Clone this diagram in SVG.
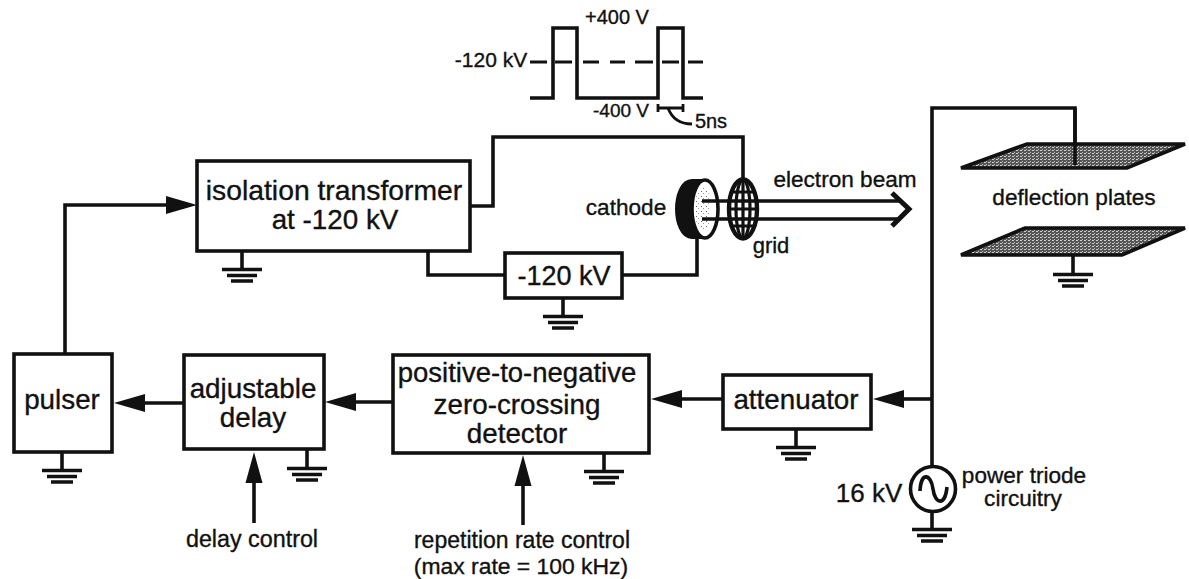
<svg xmlns="http://www.w3.org/2000/svg" width="1189" height="579" viewBox="0 0 1189 579">
<style>
text{font-family:"Liberation Sans",Arial,sans-serif;fill:#111;stroke:#111;stroke-width:.35;text-anchor:middle}
.b{font-size:27.8px}.s{font-size:22.6px}.v{font-size:20px}
.box{fill:#fff;stroke:#111;stroke-width:3.6}
.w{fill:none;stroke:#111;stroke-width:3.6}
.t{fill:none;stroke:#111;stroke-width:2.8}
.a{fill:#111;stroke:none}
.plate{fill:url(#dither);stroke:#111;stroke-width:3.6;stroke-linejoin:miter}
</style>
<defs>
<pattern id="dither" width="4" height="3" patternUnits="userSpaceOnUse"><rect width="4" height="3" fill="#555"/><rect width="2" height="1" fill="#ccc"/><rect x="2" y="2" width="1" height="1" fill="#bbb"/></pattern>
<pattern id="speck" width="5" height="5" patternUnits="userSpaceOnUse"><rect width="5" height="5" fill="#fff"/><rect x="1" y="1" width="1" height="1" fill="#666"/><rect x="3" y="3" width="1" height="1" fill="#999"/></pattern>
<g id="gnd"><path class="w" d="M0 0V18"/><path class="w" d="M-20 18.500H20M-15 24.500H15M-11 30H11" style="stroke-width:3.300"/></g>
<path id="ah" class="a" d="M0 0L31 -9V9Z"/>
<path id="av" class="a" d="M0 0L-8.500 31H8.500Z"/>
</defs>

<g id="connectors">
<path class="w" d="M65 354V205H168"/><use href="#ah" transform="translate(197,205) rotate(180)"/>
<path class="w" d="M143 403H184"/><use href="#ah" transform="translate(114,403)"/>
<path class="w" d="M354 402H393"/><use href="#ah" transform="translate(325,402)"/>
<path class="w" d="M680 399H722"/><use href="#ah" transform="translate(651,399)"/>
<path class="w" d="M901 399H932"/><use href="#ah" transform="translate(873,399)"/>
<path class="w" d="M254 523V480"/><use href="#av" transform="translate(254,452)"/>
<path class="w" d="M523 525V482"/><use href="#av" transform="translate(523,455)"/>
<path class="w" d="M932 467V108H1075V157"/>
<path class="w" d="M470 206H493V137H743V180"/>
<path class="w" d="M428 251V275H505"/>
<path class="w" d="M622 275H697V238"/>
</g>

<g id="waveform">
<path class="w" d="M530 98H553V28H577V98H658V28H683V98H703"/>
<path class="t" d="M530 62H547M555 62H572M583 62H599M610 62H625M635 62H653M662 62H679M688 62H703" style="stroke-width:3.200"/>
<path class="t" d="M658 108H683M658 104V112M683 104V112"/>
<path class="t" d="M668 108Q674 124 692 124"/>
<text class="v" x="617" y="24">+400 V</text>
<text class="v" x="491" y="67" style="font-size:21px">-120 kV</text>
<text class="v" x="621" y="117" style="font-size:19px">-400 V</text>
<text class="v" x="711" y="128">5ns</text>
</g>

<g id="isolation-transformer"><rect class="box" x="197" y="161" width="273" height="90"/>
<text class="b" x="334" y="200" style="font-size:28.300px">isolation transformer</text><text class="b" x="335" y="229">at -120 kV</text>
<use href="#gnd" transform="translate(242,251)"/></g>
<g id="hv-supply"><rect class="box" x="505" y="253" width="117" height="45"/>
<text class="b" x="564" y="285" style="font-size:27px">-120 kV</text>
<use href="#gnd" transform="translate(563,298)"/></g>
<g id="cathode">
<path d="M705 180H692C681 180 676 196 676 209C676 222 681 238 692 238H705Z" fill="#111" stroke="#111" stroke-width="2"/>
<ellipse cx="705" cy="209" rx="13" ry="29" fill="#fff" stroke="#111" stroke-width="3.600"/>
<ellipse cx="703" cy="209" rx="8" ry="22" fill="url(#speck)"/>
<text class="s" x="626" y="215">cathode</text></g>
<g id="electron-beam">
<path class="w" d="M702 201H900M702 219H900"/>
<path class="w" d="M892 193L909 209L892 226" style="stroke-width:5"/>
<text class="s" x="845" y="187">electron beam</text></g>
<g id="grid">
<ellipse cx="743" cy="209" rx="14" ry="29.500" fill="none" stroke="#111" stroke-width="4.400"/>
<path class="t" d="M743 180V238M731 192H755M729 209H757M731 226H755" style="stroke-width:3.200"/>
<ellipse cx="743" cy="209" rx="7" ry="29" fill="none" stroke="#111" stroke-width="3.200"/>
<text class="s" x="771" y="253" style="font-size:22px">grid</text></g>
<g id="deflection-plates">
<path class="plate" d="M961 168L1027 144H1185L1127 168Z"/>
<path class="plate" d="M961 255L1025 228H1185L1122 255Z"/>
<path class="w" d="M1075 108V165"/>
<text class="s" x="1074" y="205">deflection plates</text>
<use href="#gnd" transform="translate(1073,256)"/></g>
<g id="pulser"><rect class="box" x="14" y="354" width="98" height="98"/>
<text class="b" x="62" y="409">pulser</text>
<use href="#gnd" transform="translate(62,452)"/></g>
<g id="adjustable-delay"><rect class="box" x="184" y="355" width="140" height="94"/>
<text class="b" x="253" y="398">adjustable</text><text class="b" x="253" y="427">delay</text>
<use href="#gnd" transform="translate(307,450)"/></g>
<g id="zero-crossing-detector"><rect class="box" x="393" y="355" width="256" height="98"/>
<text class="b" x="517" y="382" style="font-size:27.500px">positive-to-negative</text><text class="b" x="517" y="414">zero-crossing</text><text class="b" x="517" y="443">detector</text>
<use href="#gnd" transform="translate(604,453)"/></g>
<g id="attenuator"><rect class="box" x="723" y="375" width="148" height="54"/>
<text class="b" x="796" y="409">attenuator</text>
<use href="#gnd" transform="translate(796,429)"/></g>
<g id="source">
<circle class="box" cx="933" cy="489" r="22.500"/>
<path class="w" d="M920 491C921 471 931 474 933 489C935 504 945 507 947 487"/>
<text class="b" x="869" y="502" style="font-size:26px">16 kV</text>
<text class="s" x="1024" y="483">power triode</text><text class="s" x="1023" y="506">circuitry</text>
<use href="#gnd" transform="translate(932,511)"/></g>
<g id="captions">
<text class="s" x="252" y="547" style="font-size:23.300px">delay control</text>
<text class="s" x="522" y="548" style="font-size:23px">repetition rate control</text>
<text class="s" x="521" y="574" style="font-size:22.900px">(max rate = 100 kHz)</text>
</g>
</svg>
